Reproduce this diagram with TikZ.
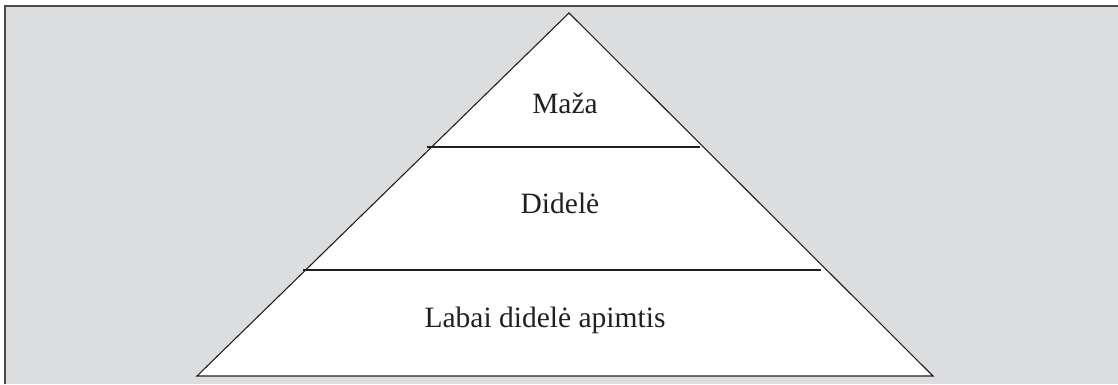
\documentclass[tikz,border=0pt]{standalone}
\usepackage{fontspec}
\setmainfont{Liberation Serif}
\definecolor{bggray}{HTML}{DCDDDF}
\definecolor{framegray}{HTML}{4A4A4A}
\definecolor{inkc}{HTML}{231F20}
\tikzset{
  tri/.style={draw=inkc, fill=white, line width=1.1pt, line join=miter},
  sep/.style={draw=inkc, line width=1.1pt},
  frame/.style={draw=framegray, line width=1.6pt},
  lbl/.style={anchor=base, inner sep=0pt, text=inkc, font=\fontsize{29.5}{34}\selectfont}
}
\begin{document}
\begin{tikzpicture}[x=1pt,y=-1pt]
\useasboundingbox (0,0) rectangle (1118,384);
\fill[bggray] (5,6) rectangle (1118,384);
\draw[frame] (5,384) -- (5,6) -- (1118,6);
\coordinate (apex) at (569,13);
\coordinate (bl) at (197,376);
\coordinate (br) at (933,376);
\draw[tri] (apex) -- (br) -- (bl) -- cycle;
\coordinate (l1a) at (427,147);
\coordinate (l1b) at (700,147);
\coordinate (l2a) at (303,270);
\coordinate (l2b) at (821,270);
\draw[sep] (l1a) -- (l1b);
\draw[sep] (l2a) -- (l2b);
\node[lbl] (t1) at (565,113) {Maža};
\node[lbl] (t2) at (560,213) {Didelė};
\node[lbl] (t3) at (545,327) {Labai didelė apimtis};
\end{tikzpicture}
\end{document}
